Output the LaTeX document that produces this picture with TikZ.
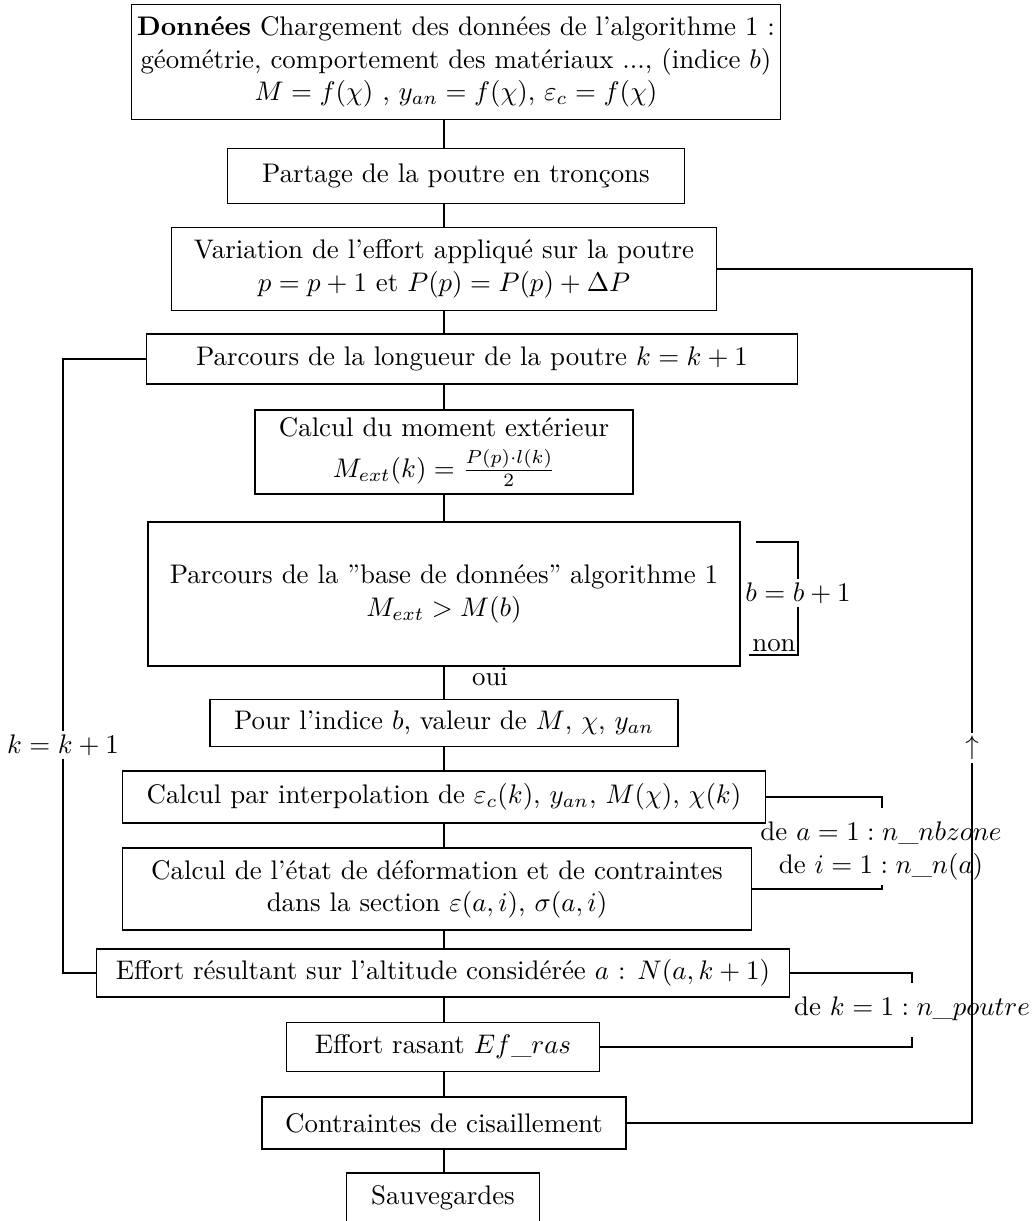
\documentclass[tikz,border=0pt]{standalone}
\usepackage{fontspec}
\usetikzlibrary{positioning}

\newcommand{\px}{0.372pt}
\tikzset{
  etape/.style={draw, align=center, inner sep=2pt},
  boucle/.style={align=center, inner sep=1pt},
}

\begin{document}
\begin{tikzpicture}[x=\px,y=-\px]
  \useasboundingbox (0,0) rectangle (1035,1221);
  \coordinate (axe) at (444,0);
  \node[etape,minimum width=646*\px,minimum height=115*\px] (donnees) at (456,62)
    {\textbf{Données} Chargement des données de l'algorithme 1 :\\
     géométrie, comportement des matériaux ..., (indice $b$)\\
     $M=f(\chi)$ , $y_{an}=f(\chi)$, $\varepsilon_c=f(\chi)$};
  \node[etape,minimum width=457*\px,minimum height=55*\px] (partage) at (456,176)
    {Partage de la poutre en tronçons};
  \node[etape,minimum width=545*\px,minimum height=83*\px] (variation) at (444,269)
    {Variation de l'effort appliqué sur la poutre\\ $p=p+1$ et $P(p)=P(p)+\Delta P$};
  \node[etape,minimum width=651*\px,minimum height=50*\px] (parcoursk) at (472,359)
    {Parcours de la longueur de la poutre $k=k+1$};
  \node[etape,minimum width=378*\px,minimum height=84*\px] (moment) at (444,452)
    {Calcul du moment extérieur\\[3pt] $M_{ext}(k)=\frac{P(p)\cdot l(k)}{2}$};
  \node[etape,minimum width=592*\px,minimum height=144*\px] (base) at (444,594)
    {Parcours de la "base de données" algorithme 1\\ $M_{ext}>M(b)$};
  \node[etape,minimum width=468*\px,minimum height=47*\px] (indice) at (444,723)
    {Pour l'indice $b$, valeur de $M$, $\chi$, $y_{an}$};
  \node[etape,minimum width=643*\px,minimum height=52*\px] (interp) at (444,797)
    {Calcul par interpolation de $\varepsilon_c(k)$, $y_{an}$, $M(\chi)$, $\chi(k)$};
  \node[etape,minimum width=629*\px,minimum height=82*\px] (etat) at (437,889)
    {Calcul de l'état de déformation et de contraintes\\ dans la section $\varepsilon(a,i)$, $\sigma(a,i)$};
  \node[etape,minimum width=693*\px,minimum height=48*\px] (effort) at (443,973)
    {Effort résultant sur l'altitude considérée $a$ : $N(a,k+1)$};
  \node[etape,minimum width=313*\px,minimum height=49*\px] (rasant) at (443,1047)
    {Effort rasant $Ef\_ras$};
  \node[etape,minimum width=364*\px,minimum height=52*\px] (cisaillement) at (444,1123)
    {Contraintes de cisaillement};
  \node[etape,minimum width=193*\px,minimum height=50*\px] (sauve) at (443,1198)
    {Sauvegardes};

  \node[boucle] (oui) at (490,677) {oui};
  \node[boucle] (binc) at (798,593) {$b=b+1$};
  \node[boucle,anchor=south] (bnon) at (774,655) {non};
  \coordinate (btop) at (756,542);
  \node[boucle] (kinc) at (63,745) {$k=k+1$};
  \node[boucle] (pinc) at (972,748) {$\uparrow$};
  \node[boucle] (zones) at (881,851) {de $a=1:n\_nbzone$\\ de $i=1:n\_n(a)$};
  \coordinate (zhaut) at (882,808);
  \coordinate (zbas) at (882,885);
  \node[boucle] (troncons) at (912,1009) {de $k=1:n\_poutre$};
  \coordinate (thaut) at (912,983);
  \coordinate (tbas) at (912,1037);

  \draw (donnees.south -| axe) -- (partage.north -| axe);
  \draw (partage.south -| axe) -- (variation.north -| axe);
  \draw (variation.south -| axe) -- (parcoursk.north -| axe);
  \draw (parcoursk.south -| axe) -- (moment.north -| axe);
  \draw (moment.south -| axe) -- (base.north -| axe);
  \draw (base.south -| axe) -- (indice.north -| axe);
  \draw (indice.south -| axe) -- (interp.north -| axe);
  \draw (interp.south -| axe) -- (etat.north -| axe);
  \draw (etat.south -| axe) -- (effort.north -| axe);
  \draw (effort.south -| axe) -- (rasant.north -| axe);
  \draw (rasant.south -| axe) -- (cisaillement.north -| axe);
  \draw (cisaillement.south -| axe) -- (sauve.north -| axe);

  \draw (btop) -| (binc);
  \draw (binc) |- (bnon.south west);
  \draw (parcoursk.west) -| (kinc);
  \draw (kinc) |- (effort.west);
  \draw (variation.east) -| (pinc);
  \draw (pinc) |- (cisaillement.east);
  \draw (interp.east) -| (zhaut);
  \draw (etat.east) -| (zbas);
  \draw (effort.east) -| (thaut);
  \draw (rasant.east) -| (tbas);
\end{tikzpicture}
\end{document}
